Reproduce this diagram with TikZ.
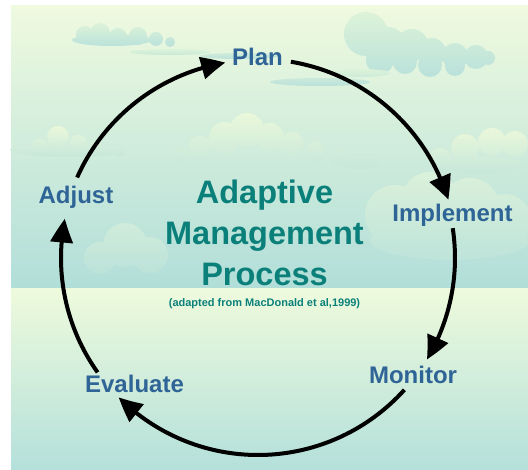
\documentclass[tikz,border=0pt]{standalone}
\usepackage{fontspec}
\setmainfont{Liberation Sans}
\usetikzlibrary{arrows.meta,bending,calc}
\definecolor{skytop}{HTML}{EFFADF}
\definecolor{skybot}{HTML}{B1DED9}
\definecolor{gndtop}{HTML}{EEFADC}
\definecolor{gndbot}{HTML}{B4E0DB}
\definecolor{cloudtop}{HTML}{DDF3D9}
\definecolor{cloudbot}{HTML}{B9E1DA}
\definecolor{lighttop}{HTML}{EAF8DA}
\definecolor{lightbot}{HTML}{C6E7DA}
\definecolor{labelblue}{HTML}{2F6496}
\definecolor{titleteal}{HTML}{0B807A}
\tikzset{
  stage/.style={font=\fontsize{24}{28}\selectfont\bfseries, text=labelblue, anchor=base, inner sep=0pt},
  cyc/.style={line width=4pt, black, -{Triangle[length=24pt,width=22pt,bend]}},
  darkcloud/.style={top color=cloudtop, bottom color=cloudbot, draw=none},
  lightcloud/.style={top color=lighttop, bottom color=lightbot, draw=none},
}
\begin{document}
\begin{tikzpicture}[x=1pt,y=1pt]
\useasboundingbox (0,0) rectangle (528,470);
\fill[white] (0,0) rectangle (528,470);
% sky and ground
\shade[top color=skytop, bottom color=skybot] (11,181) rectangle (528,464);
\shade[top color=gndtop, bottom color=gndbot] (11,0) rectangle (528,181);
% clouds
\shade[darkcloud] (85,435) circle[radius=9] (100,437) circle[radius=10] (118,433) circle[radius=9]
  (138,434) circle[radius=9] (156,431) circle[radius=7] (170,428) circle[radius=5]
  (112,430) ellipse[x radius=40, y radius=6];
\shade[darkcloud] (170,418) ellipse[x radius=40, y radius=3] (240,414) ellipse[x radius=40, y radius=3];
\shade[darkcloud] (366,436) circle[radius=22] (388,425) circle[radius=18] (412,425) circle[radius=16]
  (432,418) circle[radius=14] (455,414) circle[radius=13] (476,413) circle[radius=12]
  (488,412) circle[radius=7] (380,410) circle[radius=14] (430,405) circle[radius=12]
  (405,408) circle[radius=12] (455,404) circle[radius=10];
\shade[darkcloud] (320,388) ellipse[x radius=50, y radius=4] (360,397) ellipse[x radius=30, y radius=4];
% middle band clouds
\shade[lightcloud] (40,323) circle[radius=8] (58,333) circle[radius=11] (78,326) circle[radius=9]
  (95,322) circle[radius=7] (30,320) ellipse[x radius=20, y radius=4] (70,318) ellipse[x radius=50, y radius=5]
  (120,318) circle[radius=5];
\shade[lightcloud] (200,322) circle[radius=12] (225,332) circle[radius=16] (247,340) circle[radius=17]
  (270,333) circle[radius=14] (292,326) circle[radius=12] (315,318) circle[radius=10]
  (340,312) circle[radius=8] (180,315) circle[radius=8] (360,306) ellipse[x radius=20, y radius=5];
\shade[lightcloud] (440,310) circle[radius=12] (465,322) circle[radius=14] (492,328) circle[radius=14]
  (515,326) circle[radius=13] (480,305) ellipse[x radius=45, y radius=8];
\shade[lightcloud, opacity=0.5] (395,255) circle[radius=30] (430,270) circle[radius=28] (470,262) circle[radius=30]
  (505,250) circle[radius=26] (450,230) ellipse[x radius=80, y radius=20];
\shade[lightcloud, opacity=0.4] (125,225) circle[radius=22] (150,215) circle[radius=18] (100,212) circle[radius=16];
% cycle
\coordinate (c) at (258,212);
\coordinate (s1) at ($(c)+(156:198)$);
\coordinate (s2) at ($(c)+(80.5:199)$);
\coordinate (s3) at ($(c)+(8.7:197)$);
\coordinate (s4) at ($(c)+(-42:197)$);
\coordinate (s5) at ($(c)+(215.5:197)$);
\draw[cyc] (s1) arc[start angle=156, end angle=99.5, radius=198];
\draw[cyc] (s2) arc[start angle=80.5, end angle=17, radius=199];
\draw[cyc] (s3) arc[start angle=8.7, end angle=-31, radius=197];
\draw[cyc] (s4) arc[start angle=-42, end angle=-135, radius=197];
\draw[cyc] (s5) arc[start angle=215.5, end angle=168.5, radius=197];
% labels
\node[stage] (plan) at (257.5,404) {Plan};
\node[stage] (impl) at (452.5,248) {Implement};
\node[stage] (mon) at (413,86) {Monitor};
\node[stage] (eval) at (134.5,77) {Evaluate};
\node[stage] (adj) at (76,266) {Adjust};
\node[font=\fontsize{32.5}{41}\selectfont\bfseries, text=titleteal, align=center, anchor=base, inner sep=0pt] (title) at (264.5,184) {Adaptive\\Management\\Process};
\node[font=\fontsize{11}{13}\selectfont\bfseries, text=titleteal, anchor=base, inner sep=0pt] (src) at (264.5,163) {(adapted from MacDonald et al,1999)};
\end{tikzpicture}
\end{document}
